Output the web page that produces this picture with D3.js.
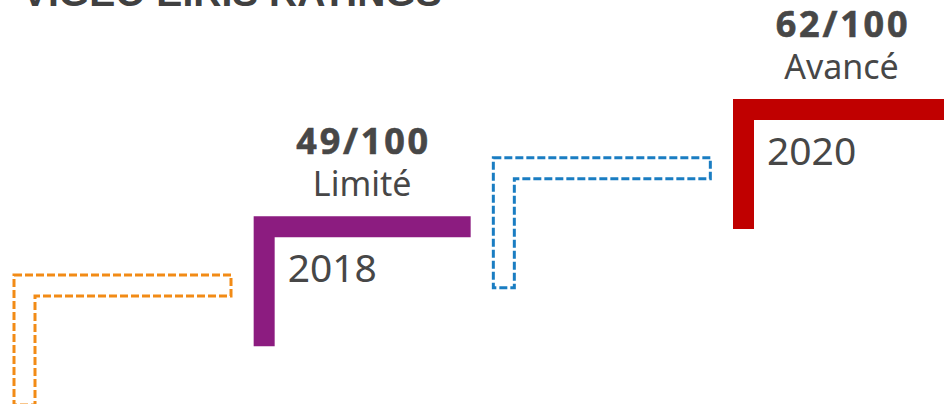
<!DOCTYPE html>
<html>
<head>
<meta charset="utf-8">
<script src="https://cdn.jsdelivr.net/npm/d3@7"></script>
<style>
  body { margin: 0; background: #fff; }
  svg { display: block; }
</style>
</head>
<body>
<svg width="944" height="404"></svg>
<script>
let width = 944, height = 404;

// steps (one per year)
const years = ["2017", "2018", "2019", "2020"];
const scores = [null, 49, null, 62];
const levels = [null, "Limité", null, "Avancé"];
const colors = ["#f28b16", "#8c1c80", "#1a7dc2", "#c00000"];
const dashed = [true, false, true, false];

let svg = d3.select("svg");

// title, mostly cropped off the top
svg.append("text")
    .attr("x", 22)
    .attr("y", 6)
    .attr("font-family", "Liberation Sans, Arial, sans-serif")
    .attr("font-weight", "bold")
    .attr("font-size", 39)
    .attr("fill", "#404040")
    .text("VIGEO EIRIS RATINGS");

let x = d3.scaleLinear().domain([0, years.length - 1]).range([14, 733]);
let y = d3.scaleLinear().domain([0, years.length - 1]).range([275, 99]);

let stepW = 217, stepH = 130, thick = 21;

function lPath(d, i) {
    let x0 = x(i), y0 = y(i);
    let p = d3.path();
    p.moveTo(x0, y0);
    p.lineTo(x0 + stepW, y0);
    p.lineTo(x0 + stepW, y0 + thick);
    p.lineTo(x0 + thick, y0 + thick);
    p.lineTo(x0 + thick, y0 + stepH);
    p.lineTo(x0, y0 + stepH);
    p.closePath();
    return p.toString();
}

let steps = svg.append("g")
    .selectAll("path")
    .data(years)
    .enter()
    .append("path")
    .attr("d", lPath)
    .attr("fill", (d, i) => dashed[i] ? "none" : colors[i])
    .attr("stroke", (d, i) => dashed[i] ? colors[i] : "none")
    .attr("stroke-width", 3)
    .attr("stroke-dasharray", (d, i) => dashed[i] ? "8,3" : null);

let labelled = years.map((d, i) => i).filter(i => scores[i] !== null);

let labels = svg.append("g")
    .attr("font-family", "Noto Sans, Open Sans, sans-serif")
    .attr("fill", "#474747")
    .selectAll("g")
    .data(labelled)
    .enter()
    .append("g");

labels.append("text")
    .attr("x", i => x(i) + stepW / 2 + 1.5)
    .attr("y", i => y(i) - 62)
    .attr("text-anchor", "middle")
    .attr("font-weight", "bold")
    .attr("font-size", 36)
    .attr("letter-spacing", 2.8)
    .attr("stroke", "#474747")
    .attr("stroke-width", 0.6)
    .text(i => scores[i] + "/100");

labels.append("text")
    .attr("x", i => x(i) + stepW / 2)
    .attr("y", i => y(i) - 20)
    .attr("text-anchor", "middle")
    .attr("font-size", 34)
    .text(i => levels[i]);

labels.append("text")
    .attr("x", i => x(i) + 34)
    .attr("y", i => y(i) + 66)
    .attr("font-size", 39)
    .text(i => years[i]);
</script>
</body>
</html>
